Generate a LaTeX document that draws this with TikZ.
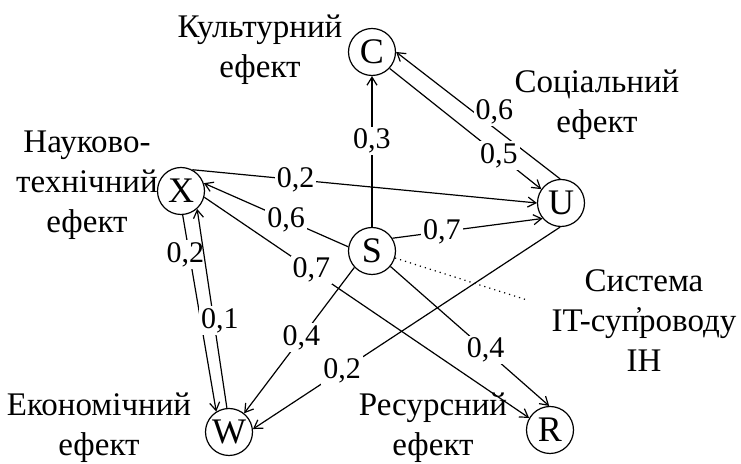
\documentclass[tikz,border=0pt]{standalone}
\usepackage{fontspec}
\setmainfont{Liberation Serif}
\usetikzlibrary{arrows.meta,positioning}

\begin{document}
\begin{tikzpicture}[
  x=0.5pt, y=-0.5pt,
  line width=0.6pt,
  effect/.style={draw, circle, minimum size=23.5pt, inner sep=0pt, font=\fontsize{18}{20}\selectfont},
  wlabel/.style={fill=white, inner sep=1pt, font=\fontsize{15}{17}\selectfont},
  caption/.style={align=center, font=\fontsize{16.5}{20}\selectfont},
  every edge/.style={draw, -{Straight Barb[length=4pt,width=5pt]}}
]
  \useasboundingbox (0,0) rectangle (741,464);

  \node[effect] (C) at (372,52) {C};
  \node[effect] (U) at (561,203) {U};
  \node[effect] (X) at (181,191) {X};
  \node[effect] (S) at (372,251) {S};
  \node[effect] (W) at (229,432) {W};
  \node[effect] (R) at (550,430) {R};
  \coordinate (sysend) at (527,300);

  \node[caption] (cult) at (260,50) {Культурний\\ефект};
  \node[caption] (soc) at (597,105) {Соціальний\\ефект};
  \node[caption] (nauk) at (87,185) {Науково-\\технічний\\ефект};
  \node[caption] (ekon) at (99,428) {Економічний\\ефект};
  \node[caption] (res) at (433,428) {Ресурсний\\ефект};
  \node[caption] (sys) at (644,321) {Система\\IT-суп̓роводу\\ІН};

  \path (S.90) edge node[wlabel, pos=0.57]{0,3} (C.270);
  \path (U.92) edge node[wlabel, pos=0.45, xshift=4pt, yshift=5pt]{0,6} (C.0);
  \path (C.-43) edge node[wlabel, pos=0.72]{0,5} (U.145);
  \path (X.62) edge node[wlabel, pos=0.3]{0,2} (U.180);
  \path (S.170) edge node[wlabel, pos=0.43]{0,6} (X.19);
  \path (X.-15) edge node[wlabel, pos=0.33]{0,7} (R.150);
  \path (S.32) edge node[wlabel, pos=0.33]{0,7} (U.220);
  \path (S.223) edge node[wlabel, pos=0.48]{0,4} (W.51);
  \path (S.-40) edge node[wlabel, pos=0.6]{0,4} (R.92);
  \path (U.-92) edge node[wlabel, pos=0.71]{0,2} (W.7);
  \path (X.-86) edge node[wlabel, pos=0.2, xshift=-2pt]{0,2} (W.122);
  \path (W.95) edge node[wlabel, pos=0.44, xshift=3pt]{0,1} (X.-48);
  \draw[dotted] (S.-17) -- (sysend);
\end{tikzpicture}
\end{document}
